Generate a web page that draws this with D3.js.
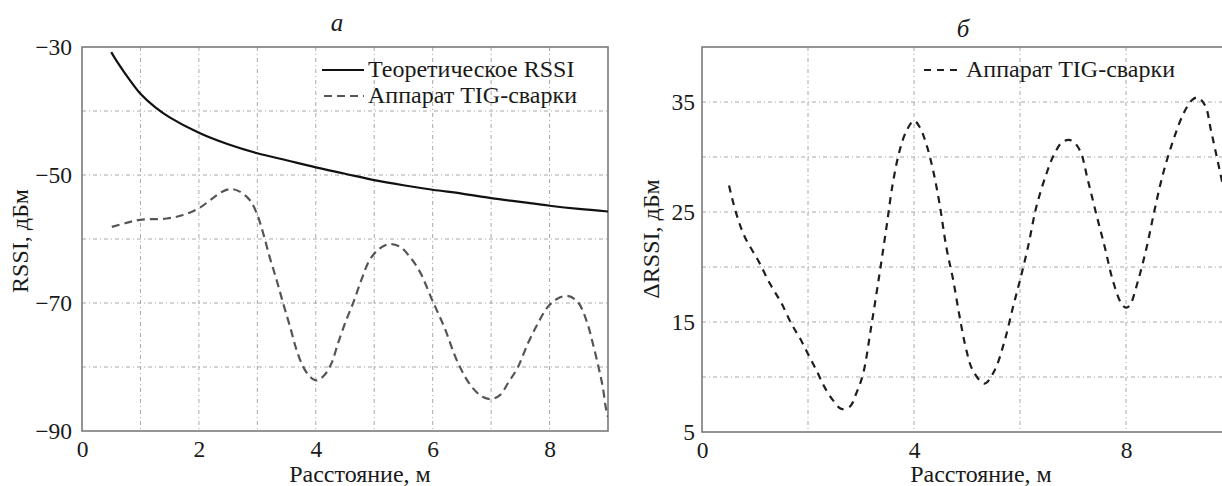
<!DOCTYPE html>
<html>
<head>
<meta charset="utf-8">
<script src="https://cdn.jsdelivr.net/npm/d3@7"></script>
<style>
  body { margin: 0; background: #fff; }
  svg { display: block; }
  text { font-family: "Liberation Serif", "Times New Roman", serif; fill: #1a1a1a; }
</style>
</head>
<body>
<div id="chart"></div>
<script>
// --- data ---
// panel a: theoretical RSSI (solid)
var distTheory = [0.5, 0.6, 0.75, 1.0, 1.25, 1.5, 2.0, 2.5, 3.0, 3.5, 4.0, 4.5, 5.0, 5.5, 6.0, 6.5, 7.0, 7.5, 8.0, 8.5, 9.0];
var rssiTheory = [-30.8, -32.3, -34.3, -37.3, -39.4, -41.0, -43.4, -45.2, -46.6, -47.7, -48.8, -49.8, -50.8, -51.6, -52.3, -52.9, -53.6, -54.2, -54.8, -55.3, -55.7];

// panel a: TIG welder (dashed)
var distTigA = [0.51, 0.75, 0.99, 1.45, 1.73, 2.0, 2.24, 2.4, 2.55, 2.7, 2.87, 2.99, 3.1, 3.21, 3.33, 3.44, 3.56, 3.67, 3.78, 3.9, 4.01, 4.15, 4.27, 4.38, 4.52, 4.64, 4.78, 4.92, 5.09, 5.26, 5.44, 5.61, 5.78, 5.99, 6.2, 6.43, 6.66, 6.86, 7.0, 7.15, 7.29, 7.46, 7.63, 7.8, 7.97, 8.14, 8.31, 8.48, 8.63, 8.74, 8.85, 8.91, 8.96, 9.0];
var rssiTigA = [-58.1, -57.5, -57.0, -56.8, -56.25, -55.2, -53.6, -52.6, -52.2, -52.6, -53.9, -56.0, -59.1, -62.8, -66.4, -70.0, -73.7, -77.3, -79.9, -81.5, -82.1, -81.25, -79.4, -76.3, -72.7, -70.0, -66.4, -63.3, -61.5, -60.8, -61.2, -62.8, -65.1, -69.5, -73.8, -79.3, -83.0, -84.7, -85.0, -84.4, -82.5, -80.0, -76.3, -73.2, -70.6, -69.3, -68.9, -69.8, -72.7, -76.3, -80.5, -83.1, -86.2, -87.8];

// panel б: delta RSSI of TIG welder (dashed)
var distTigB = [0.51, 0.65, 0.81, 1.06, 1.28, 1.5, 1.69, 1.84, 2.0, 2.16, 2.31, 2.47, 2.63, 2.79, 2.91, 3.04, 3.19, 3.35, 3.48, 3.6, 3.73, 3.86, 4.0, 4.11, 4.23, 4.36, 4.48, 4.61, 4.74, 4.86, 4.99, 5.11, 5.33, 5.52, 5.71, 5.87, 6.0, 6.15, 6.31, 6.5, 6.65, 6.81, 6.97, 7.13, 7.28, 7.44, 7.6, 7.75, 7.91, 8.0, 8.07, 8.23, 8.39, 8.54, 8.7, 8.89, 9.08, 9.25, 9.36, 9.5, 9.6, 9.7, 9.82];
var deltaTigB = [27.4, 24.8, 22.7, 20.6, 18.5, 16.7, 14.8, 13.6, 12.1, 10.6, 9.1, 7.9, 7.1, 7.3, 8.5, 10.3, 14.5, 19.4, 23.6, 27.6, 30.6, 32.4, 33.3, 32.7, 31.2, 28.8, 25.8, 21.8, 18.8, 15.5, 12.4, 10.6, 9.4, 10.6, 13.3, 16.4, 18.8, 21.8, 25.5, 28.5, 30.3, 31.4, 31.5, 30.6, 27.9, 24.8, 21.8, 18.8, 16.7, 16.3, 16.5, 18.8, 21.8, 25.2, 28.5, 31.5, 33.9, 35.2, 35.4, 34.6, 32.5, 30.3, 27.6];

// axes / ticks
var xTicksA = [0, 2, 4, 6, 8];
var yTicksA = [-30, -50, -70, -90];
var xTicksB = [0, 4, 8];
var yTicksB = [5, 15, 25, 35];

var W = 1222, H = 486;
var gridColor = "#a8a8a8";
var frameColor = "#7a7a7a";

var svg = d3.select("#chart").append("svg")
    .attr("width", W)
    .attr("height", H);

svg.append("rect").attr("width", W).attr("height", H).attr("fill", "#fff");

function minus(v) {
    return v < 0 ? "\u2212" + Math.abs(v) : String(v);
}

function makePanel(p) {
    var x = d3.scaleLinear().domain(p.xDomain).range([p.left, p.right]);
    var y = d3.scaleLinear().domain(p.yDomain).range([p.bottom, p.top]);

    svg.append("clipPath").attr("id", p.id)
        .append("rect")
        .attr("x", p.left).attr("y", p.top)
        .attr("width", p.right - p.left).attr("height", p.bottom - p.top);

    // grid
    var g = svg.append("g");
    g.selectAll(".vg").data(d3.range(p.xDomain[0] + p.xGrid, p.xDomain[1], p.xGrid)).join("line")
        .attr("x1", d => x(d)).attr("x2", d => x(d))
        .attr("y1", p.top).attr("y2", p.bottom)
        .attr("stroke", gridColor).attr("stroke-width", 1)
        .attr("stroke-dasharray", "4,3,1,3");
    g.selectAll(".hg").data(d3.range(p.yDomain[0] + p.yGrid, p.yDomain[1] - 0.001, p.yGrid)).join("line")
        .attr("x1", p.left).attr("x2", p.right)
        .attr("y1", d => y(d)).attr("y2", d => y(d))
        .attr("stroke", gridColor).attr("stroke-width", 1)
        .attr("stroke-dasharray", "4,3,1,3");

    // frame
    svg.append("rect")
        .attr("x", p.left).attr("y", p.top)
        .attr("width", p.right - p.left).attr("height", p.bottom - p.top)
        .attr("fill", "none").attr("stroke", frameColor).attr("stroke-width", 1.6);

    // tick labels through the axis generators, no tick lines
    var ax = svg.append("g")
        .attr("transform", `translate(0,${p.bottom})`)
        .call(d3.axisBottom(x).tickValues(p.xTicks).tickSize(0).tickPadding(0).tickFormat(d3.format("d")));
    ax.select(".domain").remove();
    ax.selectAll("text").attr("dy", null).attr("y", 26).attr("font-size", 23.5).attr("fill", "#1a1a1a");

    var ay = svg.append("g")
        .attr("transform", `translate(${p.left},0)`)
        .call(d3.axisLeft(y).tickValues(p.yTicks).tickSize(0).tickPadding(0).tickFormat(minus));
    ay.select(".domain").remove();
    ay.selectAll("text").attr("dy", null).attr("x", p.yLabelGap).attr("y", 7.5).attr("font-size", 23.5).attr("fill", "#1a1a1a");
    svg.selectAll(".tick text").attr("font-family", "Liberation Serif, Times New Roman, serif");

    return {x: x, y: y};
}

var A = makePanel({id: "clipA", left: 82, right: 608, top: 47, bottom: 431,
    xDomain: [0, 9], yDomain: [-90, -30], xGrid: 1, yGrid: 10,
    xTicks: xTicksA, yTicks: yTicksA, yLabelGap: -10});

var B = makePanel({id: "clipB", left: 702, right: 1232, top: 47, bottom: 432,
    xDomain: [0, 10], yDomain: [5, 40], xGrid: 2, yGrid: 5,
    xTicks: xTicksB, yTicks: yTicksB, yLabelGap: -7});

// curves
function curve(sc, xs, ys) {
    return d3.line()
        .x(function(d, i) { return sc.x(xs[i]); })
        .y(function(d, i) { return sc.y(ys[i]); })
        .curve(d3.curveCatmullRom.alpha(0.5))(xs);
}

svg.append("path")
    .attr("clip-path", "url(#clipA)")
    .attr("d", curve(A, distTheory, rssiTheory))
    .attr("fill", "none").attr("stroke", "#111").attr("stroke-width", 2.2);

svg.append("path")
    .attr("clip-path", "url(#clipA)")
    .attr("d", curve(A, distTigA, rssiTigA))
    .attr("fill", "none").attr("stroke", "#555").attr("stroke-width", 2.2)
    .attr("stroke-dasharray", "8,5");

svg.append("path")
    .attr("clip-path", "url(#clipB)")
    .attr("d", curve(B, distTigB, deltaTigB))
    .attr("fill", "none").attr("stroke", "#1e1e1e").attr("stroke-width", 2.2)
    .attr("stroke-dasharray", "7,6");

// legends
svg.append("line").attr("x1", 322).attr("x2", 364).attr("y1", 70).attr("y2", 70)
    .attr("stroke", "#111").attr("stroke-width", 2.2);
svg.append("text").attr("x", 368).attr("y", 77).attr("font-size", 24).text("Теоретическое RSSI");
svg.append("line").attr("x1", 324).attr("x2", 364).attr("y1", 96).attr("y2", 96)
    .attr("stroke", "#555").attr("stroke-width", 2.2).attr("stroke-dasharray", "8,5");
svg.append("text").attr("x", 368).attr("y", 103).attr("font-size", 24).text("Аппарат TIG-сварки");

svg.append("line").attr("x1", 924).attr("x2", 961).attr("y1", 70).attr("y2", 70)
    .attr("stroke", "#1e1e1e").attr("stroke-width", 2.2).attr("stroke-dasharray", "7,6");
svg.append("text").attr("x", 966).attr("y", 77).attr("font-size", 24).text("Аппарат TIG-сварки");

// panel titles
svg.append("text").attr("x", 337).attr("y", 31).attr("text-anchor", "middle")
    .attr("font-size", 25).attr("font-style", "italic").text("а");
svg.append("text").attr("x", 963).attr("y", 37).attr("text-anchor", "middle")
    .attr("font-size", 25).attr("font-style", "italic").text("б");

// axis titles
svg.append("text").attr("x", 360).attr("y", 482).attr("text-anchor", "middle")
    .attr("font-size", 24).text("Расстояние, м");
svg.append("text").attr("x", 981).attr("y", 482).attr("text-anchor", "middle")
    .attr("font-size", 24).text("Расстояние, м");

svg.append("text").attr("transform", "translate(28,241) rotate(-90)").attr("text-anchor", "middle")
    .attr("font-size", 24).text("RSSI, дБм");
svg.append("text").attr("transform", "translate(659,239) rotate(-90)").attr("text-anchor", "middle")
    .attr("font-size", 24).text("\u0394RSSI, дБм");
</script>
</body>
</html>
